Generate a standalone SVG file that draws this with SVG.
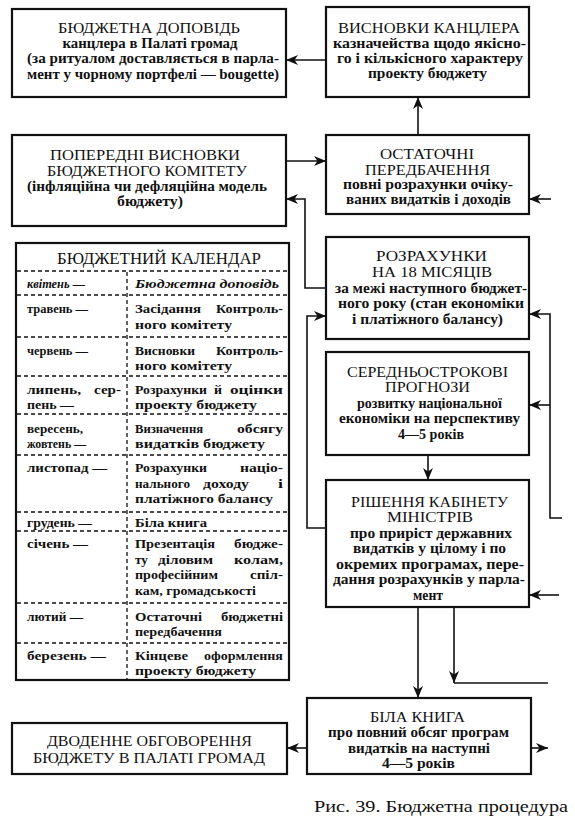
<svg xmlns="http://www.w3.org/2000/svg" width="575" height="822" viewBox="0 0 575 822">
<defs>
<marker id="ah" viewBox="0 0 12 10" refX="12" refY="5" markerWidth="12" markerHeight="10" markerUnits="userSpaceOnUse" orient="auto"><path d="M0,0 L12,5 L0,10 L3.5,5 Z" fill="#111"/></marker>
<style>
.box{fill:#fff;stroke:#111;stroke-width:2.2}
.c{fill:none;stroke:#111;stroke-width:1.6}
.h{font-family:"Liberation Serif","Times New Roman",serif;font-size:14px;fill:#111;text-anchor:middle}
.s{font-family:"Liberation Serif","Times New Roman",serif;font-size:14px;font-weight:bold;fill:#111;text-anchor:middle}
.t{font-family:"Liberation Serif","Times New Roman",serif;font-size:13.5px;font-weight:bold;fill:#111}
.i{font-style:italic}
.d{stroke:#111;stroke-width:1.3;stroke-dasharray:4 3;fill:none}
.cap{font-family:"Liberation Serif","Times New Roman",serif;font-size:17px;fill:#111}
</style>
</defs>
<rect x="0" y="0" width="575" height="822" fill="#fff"/>

<g id="connectors">
<polyline class="c" points="326,60 286,60" marker-end="url(#ah)"/>
<polyline class="c" points="418,135 418,97" marker-end="url(#ah)"/>
<polyline class="c" points="286,161 326,161" marker-end="url(#ah)"/>
<polyline class="c" points="326,288 305,288 305,199 286,199" marker-end="url(#ah)"/>
<polyline class="c" points="551,199 529,199" marker-end="url(#ah)"/>
<polyline class="c" points="562,518 550,518 550,314 529,314" marker-end="url(#ah)"/>
<polyline class="c" points="550,405 529,405" marker-end="url(#ah)"/>
<polyline class="c" points="326,528 307,528 307,316 326,316" marker-end="url(#ah)"/>
<polyline class="c" points="428,455 428,480" marker-end="url(#ah)"/>
<polyline class="c" points="559,595 529,595" marker-end="url(#ah)"/>
<polyline class="c" points="418,607 418,698" marker-end="url(#ah)"/>
<polyline class="c" points="454,607 454,683" marker-end="url(#ah)"/>
<polyline class="c" points="454,683 548,683"/>
<polyline class="c" points="307,748 287,748" marker-end="url(#ah)"/>
<polyline class="c" points="531,748 548,748" marker-end="url(#ah)"/>
</g>

<g id="n1">
<rect class="box" x="12" y="9" width="274" height="88"/>
<text class="h" x="149" y="33" textLength="182" lengthAdjust="spacingAndGlyphs">БЮДЖЕТНА ДОПОВІДЬ</text>
<text class="s" x="150" y="48" textLength="175" lengthAdjust="spacingAndGlyphs">канцлера в Палаті громад</text>
<text class="s" x="153" y="63" textLength="252" lengthAdjust="spacingAndGlyphs">(за ритуалом доставляється в парла-</text>
<text class="s" x="153" y="79" textLength="252" lengthAdjust="spacingAndGlyphs">мент у чорному портфелі — bougette)</text>
</g>

<g id="n2">
<rect class="box" x="326" y="7" width="203" height="90"/>
<text class="h" x="429" y="32.5" textLength="182" lengthAdjust="spacingAndGlyphs">ВИСНОВКИ КАНЦЛЕРА</text>
<text class="s" x="429.5" y="47.5" textLength="193" lengthAdjust="spacingAndGlyphs">казначейства щодо якісно-</text>
<text class="s" x="430" y="62.5" textLength="186" lengthAdjust="spacingAndGlyphs">го і кількісного характеру</text>
<text class="s" x="427.5" y="77.5" textLength="119" lengthAdjust="spacingAndGlyphs">проекту бюджету</text>
</g>

<g id="n3">
<rect class="box" x="326" y="135" width="203" height="79"/>
<text class="h" x="427" y="159" textLength="94" lengthAdjust="spacingAndGlyphs">ОСТАТОЧНІ</text>
<text class="h" x="427.5" y="174.5" textLength="125" lengthAdjust="spacingAndGlyphs">ПЕРЕДБАЧЕННЯ</text>
<text class="s" x="428" y="189" textLength="170" lengthAdjust="spacingAndGlyphs">повні розрахунки очіку-</text>
<text class="s" x="428.5" y="204" textLength="165" lengthAdjust="spacingAndGlyphs">ваних видатків і доходів</text>
</g>

<g id="n4">
<rect class="box" x="12" y="135" width="274" height="91"/>
<text class="h" x="145" y="159.5" textLength="190" lengthAdjust="spacingAndGlyphs">ПОПЕРЕДНІ ВИСНОВКИ</text>
<text class="h" x="147" y="175.5" textLength="200" lengthAdjust="spacingAndGlyphs">БЮДЖЕТНОГО КОМІТЕТУ</text>
<text class="s" x="147" y="191" textLength="240" lengthAdjust="spacingAndGlyphs">(інфляційна чи дефляційна модель</text>
<text class="s" x="150" y="206" textLength="66" lengthAdjust="spacingAndGlyphs">бюджету)</text>
</g>

<g id="n5">
<rect class="box" x="326" y="237" width="203" height="102"/>
<text class="h" x="431.5" y="261" textLength="111" lengthAdjust="spacingAndGlyphs">РОЗРАХУНКИ</text>
<text class="h" x="432" y="277" textLength="120" lengthAdjust="spacingAndGlyphs">НА 18 МІСЯЦІВ</text>
<text class="s" x="431" y="292.5" textLength="192" lengthAdjust="spacingAndGlyphs">за межі наступного бюджет-</text>
<text class="s" x="431" y="308" textLength="186" lengthAdjust="spacingAndGlyphs">ного року (стан економіки</text>
<text class="s" x="427.5" y="323.5" textLength="151" lengthAdjust="spacingAndGlyphs">і платіжного балансу)</text>
</g>

<g id="n6">
<rect class="box" x="326" y="352" width="203" height="103"/>
<text class="h" x="427.5" y="377" textLength="161" lengthAdjust="spacingAndGlyphs">СЕРЕДНЬОСТРОКОВІ</text>
<text class="h" x="427.5" y="392" textLength="85" lengthAdjust="spacingAndGlyphs">ПРОГНОЗИ</text>
<text class="s" x="429.5" y="407.5" textLength="145" lengthAdjust="spacingAndGlyphs">розвитку національної</text>
<text class="s" x="429.5" y="423" textLength="181" lengthAdjust="spacingAndGlyphs">економіки на перспективу</text>
<text class="s" x="431" y="438.5" textLength="66" lengthAdjust="spacingAndGlyphs">4—5 років</text>
</g>

<g id="n7">
<rect class="box" x="326" y="480" width="203" height="127"/>
<text class="h" x="429.5" y="506.5" textLength="157" lengthAdjust="spacingAndGlyphs">РІШЕННЯ КАБІНЕТУ</text>
<text class="h" x="430" y="522" textLength="86" lengthAdjust="spacingAndGlyphs">МІНІСТРІВ</text>
<text class="s" x="431" y="537.5" textLength="162" lengthAdjust="spacingAndGlyphs">про приріст державних</text>
<text class="s" x="429.5" y="553" textLength="153" lengthAdjust="spacingAndGlyphs">видатків у цілому і по</text>
<text class="s" x="430" y="568.5" textLength="188" lengthAdjust="spacingAndGlyphs">окремих програмах, пере-</text>
<text class="s" x="429" y="584" textLength="192" lengthAdjust="spacingAndGlyphs">дання розрахунків у парла-</text>
<text class="s" x="428" y="599.5" textLength="30" lengthAdjust="spacingAndGlyphs">мент</text>
</g>

<g id="n8">
<rect class="box" x="307" y="698" width="224" height="76"/>
<text class="h" x="417.5" y="721.5" textLength="95" lengthAdjust="spacingAndGlyphs">БІЛА КНИГА</text>
<text class="s" x="418.5" y="737" textLength="181" lengthAdjust="spacingAndGlyphs">про повний обсяг програм</text>
<text class="s" x="419" y="752.5" textLength="142" lengthAdjust="spacingAndGlyphs">видатків на наступні</text>
<text class="s" x="418.5" y="768" textLength="73" lengthAdjust="spacingAndGlyphs">4—5 років</text>
</g>

<g id="n9">
<rect class="box" x="12" y="723" width="275" height="51"/>
<text class="h" x="149.5" y="746" textLength="205" lengthAdjust="spacingAndGlyphs" style="font-size:15px">ДВОДЕННЕ ОБГОВОРЕННЯ</text>
<text class="h" x="149" y="763" textLength="232" lengthAdjust="spacingAndGlyphs" style="font-size:15px">БЮДЖЕТУ В ПАЛАТІ ГРОМАД</text>
</g>

<g id="calendar">
<rect class="box" x="16" y="243" width="273" height="437"/>
<text class="h" x="159" y="264" textLength="204" lengthAdjust="spacingAndGlyphs" style="font-size:16px">БЮДЖЕТНИЙ КАЛЕНДАР</text>
<path class="d" d="M17,271H288M17,295H288M17,337H288M17,376H288M17,414H288M17,455H288M17,512H288M17,531H288M17,603H288M17,643H288"/>
<path class="d" d="M127,272V679"/>

<text class="t i" x="27" y="288" textLength="58" lengthAdjust="spacingAndGlyphs">квітень —</text>
<text class="t i" x="135" y="288" textLength="144" lengthAdjust="spacingAndGlyphs">Бюджетна доповідь</text>

<text class="t" x="27" y="313" textLength="61" lengthAdjust="spacingAndGlyphs">травень —</text>
<text class="t" x="135" y="313" textLength="66" lengthAdjust="spacingAndGlyphs">Засідання</text>
<text class="t" x="216" y="313" textLength="67" lengthAdjust="spacingAndGlyphs">Контроль-</text>
<text class="t" x="135" y="329" textLength="97" lengthAdjust="spacingAndGlyphs">ного комітету</text>

<text class="t" x="27" y="355" textLength="61" lengthAdjust="spacingAndGlyphs">червень —</text>
<text class="t" x="135" y="355" textLength="60" lengthAdjust="spacingAndGlyphs">Висновки</text>
<text class="t" x="216" y="355" textLength="67" lengthAdjust="spacingAndGlyphs">Контроль-</text>
<text class="t" x="135" y="370" textLength="97" lengthAdjust="spacingAndGlyphs">ного комітету</text>

<text class="t" x="27" y="394" textLength="54" lengthAdjust="spacingAndGlyphs">липень,</text>
<text class="t" x="94" y="394" textLength="27" lengthAdjust="spacingAndGlyphs">сер-</text>
<text class="t" x="27" y="409" textLength="47" lengthAdjust="spacingAndGlyphs">пень —</text>
<text class="t" x="135" y="394" textLength="72" lengthAdjust="spacingAndGlyphs">Розрахунки</text>
<text class="t" x="214" y="394" textLength="8" lengthAdjust="spacingAndGlyphs">й</text>
<text class="t" x="230" y="394" textLength="53" lengthAdjust="spacingAndGlyphs">оцінки</text>
<text class="t" x="135" y="409" textLength="122" lengthAdjust="spacingAndGlyphs">проекту бюджету</text>

<text class="t" x="27" y="433" textLength="56" lengthAdjust="spacingAndGlyphs">вересень,</text>
<text class="t" x="27" y="448" textLength="59" lengthAdjust="spacingAndGlyphs">жовтень —</text>
<text class="t" x="135" y="433" textLength="68" lengthAdjust="spacingAndGlyphs">Визначення</text>
<text class="t" x="237" y="433" textLength="46" lengthAdjust="spacingAndGlyphs">обсягу</text>
<text class="t" x="135" y="448" textLength="130" lengthAdjust="spacingAndGlyphs">видатків бюджету</text>

<text class="t" x="27" y="472" textLength="80" lengthAdjust="spacingAndGlyphs">листопад —</text>
<text class="t" x="135" y="472" textLength="72" lengthAdjust="spacingAndGlyphs">Розрахунки</text>
<text class="t" x="240" y="472" textLength="43" lengthAdjust="spacingAndGlyphs">націо-</text>
<text class="t" x="135" y="488" textLength="55" lengthAdjust="spacingAndGlyphs">нального</text>
<text class="t" x="203" y="488" textLength="46" lengthAdjust="spacingAndGlyphs">доходу</text>
<text class="t" x="278" y="488" textLength="5" lengthAdjust="spacingAndGlyphs">і</text>
<text class="t" x="135" y="503" textLength="138" lengthAdjust="spacingAndGlyphs">платіжного балансу</text>

<text class="t" x="27" y="527" textLength="65" lengthAdjust="spacingAndGlyphs">грудень —</text>
<text class="t" x="135" y="527" textLength="72" lengthAdjust="spacingAndGlyphs">Біла книга</text>

<text class="t" x="27" y="548" textLength="61" lengthAdjust="spacingAndGlyphs">січень —</text>
<text class="t" x="135" y="548" textLength="80" lengthAdjust="spacingAndGlyphs">Презентація</text>
<text class="t" x="234" y="548" textLength="49" lengthAdjust="spacingAndGlyphs">бюдже-</text>
<text class="t" x="135" y="564" textLength="13" lengthAdjust="spacingAndGlyphs">ту</text>
<text class="t" x="158" y="564" textLength="55" lengthAdjust="spacingAndGlyphs">діловим</text>
<text class="t" x="234" y="564" textLength="49" lengthAdjust="spacingAndGlyphs">колам,</text>
<text class="t" x="135" y="579" textLength="83" lengthAdjust="spacingAndGlyphs">професійним</text>
<text class="t" x="250" y="579" textLength="33" lengthAdjust="spacingAndGlyphs">спіл-</text>
<text class="t" x="135" y="595" textLength="121" lengthAdjust="spacingAndGlyphs">кам, громадськості</text>

<text class="t" x="27" y="621" textLength="56" lengthAdjust="spacingAndGlyphs">лютий —</text>
<text class="t" x="135" y="621" textLength="67" lengthAdjust="spacingAndGlyphs">Остаточні</text>
<text class="t" x="221" y="621" textLength="62" lengthAdjust="spacingAndGlyphs">бюджетні</text>
<text class="t" x="135" y="636" textLength="87" lengthAdjust="spacingAndGlyphs">передбачення</text>

<text class="t" x="27" y="660" textLength="79" lengthAdjust="spacingAndGlyphs">березень —</text>
<text class="t" x="135" y="660" textLength="53" lengthAdjust="spacingAndGlyphs">Кінцеве</text>
<text class="t" x="204" y="660" textLength="79" lengthAdjust="spacingAndGlyphs">оформлення</text>
<text class="t" x="135" y="675" textLength="121" lengthAdjust="spacingAndGlyphs">проекту бюджету</text>
</g>

<text class="cap" x="314" y="812" textLength="254" lengthAdjust="spacingAndGlyphs">Рис. 39. Бюджетна процедура</text>
</svg>
